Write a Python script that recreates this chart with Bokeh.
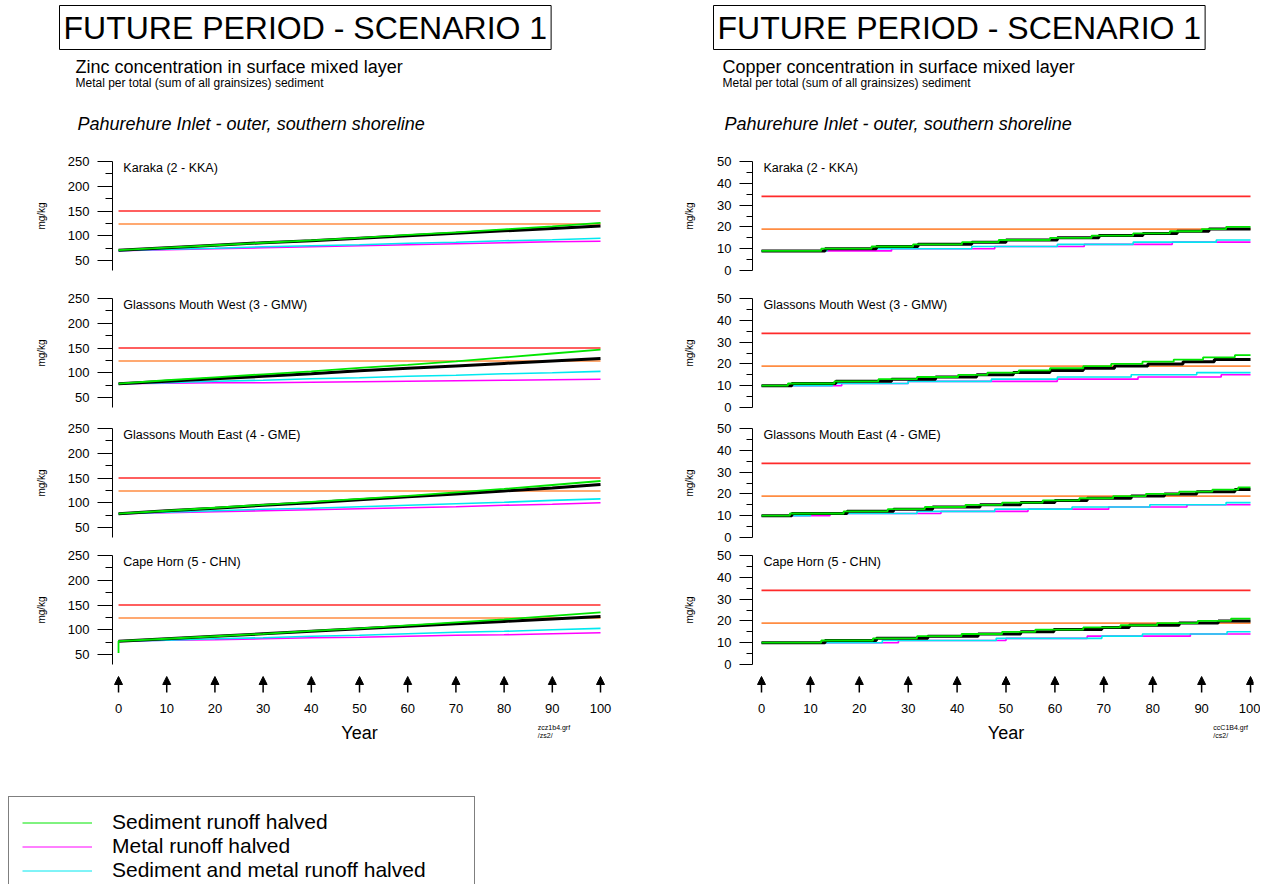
from bokeh.plotting import figure
from bokeh.layouts import column, row
from bokeh.models import (Range1d, FixedTicker, Label, Arrow, NormalHead,
                          ColumnDataSource, Legend, LegendItem)
from bokeh.embed import file_html
from bokeh.resources import INLINE

FONT = "Liberation Sans"

# ---------------- data ----------------
stations = ["Karaka (2 - KKA)", "Glassons Mouth West (3 - GMW)",
            "Glassons Mouth East (4 - GME)", "Cape Horn (5 - CHN)"]
year_ticks = [0, 10, 20, 30, 40, 50, 60, 70, 80, 90, 100]
decades = [0, 10, 20, 30, 40, 50, 60, 70, 80, 90, 100]

zn_ticks = [50, 100, 150, 200, 250]
zn_minor = [75, 125, 175, 225]
cu_ticks = [0, 10, 20, 30, 40, 50]
cu_minor = [5, 15, 25, 35, 45]

zn_thresholds = [124, 150]   # amber, red
cu_thresholds = [19, 34]

# Zinc (mg/kg) at each decade
zn_kka_scen = [71, 76, 81, 86, 90, 95, 100, 105, 110, 115, 120]
zn_kka_sed = [71, 76, 81, 86, 91, 96, 102, 107, 113, 119, 126]
zn_kka_metal = [70, 72, 74, 76, 78, 80, 82, 84, 86, 88, 89]
zn_kka_both = [70, 73, 75, 78, 80, 82, 85, 87, 90, 92, 95]

zn_gmw_scen = [78, 83, 88, 93, 98, 104, 109, 114, 119, 124, 129]
zn_gmw_sed = [78, 85, 91, 97, 103, 110, 116, 123, 131, 139, 147]
zn_gmw_metal = [78, 79, 80, 80, 81, 82, 83, 84, 85, 86, 87]
zn_gmw_both = [78, 80, 83, 85, 88, 90, 93, 95, 98, 100, 103]

zn_gme_scen = [78, 84, 89, 95, 100, 106, 112, 118, 124, 130, 137]
zn_gme_sed = [78, 84, 90, 96, 102, 108, 114, 121, 128, 136, 144]
zn_gme_metal = [78, 80, 82, 84, 86, 88, 90, 92, 95, 97, 100]
zn_gme_both = [78, 81, 84, 87, 89, 92, 95, 98, 101, 105, 108]

zn_chn_scen = [77, 82, 87, 92, 97, 102, 107, 112, 117, 122, 127]
zn_chn_sed_years = [0, 0, 10, 20, 30, 40, 50, 60, 70, 80, 90, 100]
zn_chn_sed = [53, 77, 82, 87, 92, 98, 103, 109, 115, 121, 128, 135]
zn_chn_metal = [77, 79, 80, 82, 84, 85, 87, 89, 90, 92, 94]
zn_chn_both = [77, 79, 82, 84, 87, 89, 92, 95, 97, 100, 103]

# Copper (mg/kg): step change years and levels
cu_kka_scen_yr = [0, 13, 23.5, 32, 43, 50, 60.5, 69, 78, 85, 91.5, 100]
cu_kka_scen = [9, 10, 11, 12, 13, 14, 15, 16, 17, 18, 19, 19]
cu_kka_sed_yr = [0, 12.2, 22.5, 31, 41, 48.5, 59, 67.5, 76, 83.5, 90, 95, 100]
cu_kka_sed = [9, 10, 11, 12, 13, 14, 15, 16, 17, 18, 19, 20, 20]
cu_kka_metal_yr = [0, 26.6, 47.7, 66, 84, 100]
cu_kka_metal = [9, 10, 11, 12, 13, 13]
cu_kka_both_yr = [0, 13.4, 43, 60.5, 76, 93, 100]
cu_kka_both = [9, 10, 11, 12, 13, 14, 14]

cu_gmw_scen_yr = [0, 6.2, 15.2, 26.6, 35.6, 44, 51.5, 59, 65.8, 72.2, 79, 86.2, 92.6, 100]
cu_gmw_scen = [10, 11, 12, 13, 14, 15, 16, 17, 18, 19, 20, 21, 22, 22]
cu_gmw_sed_yr = [0, 5.4, 14.9, 23.9, 31.8, 40.2, 46.2, 52.6, 59, 65.8, 71.5, 77.9, 84.3, 90.3, 96.8, 100]
cu_gmw_sed = [10, 11, 12, 13, 14, 15, 16, 17, 18, 19, 20, 21, 22, 23, 24, 24]
cu_gmw_metal_yr = [0, 16.4, 30, 60.5, 77, 94, 100]
cu_gmw_metal = [10, 11, 12, 13, 14, 15, 15]
cu_gmw_both_yr = [0, 14.5, 30, 47, 60.5, 75.6, 89, 100]
cu_gmw_both = [10, 11, 12, 13, 14, 15, 16, 16]

cu_gme_scen_yr = [0, 6.2, 17.5, 27, 35, 44.7, 53, 60, 66.6, 75.6, 82.4, 89, 96.8, 100]
cu_gme_scen = [10, 11, 12, 13, 14, 15, 16, 17, 18, 19, 20, 21, 22, 22]
cu_gme_sed_yr = [0, 5.8, 16.8, 25.8, 33.4, 41.7, 49.2, 57.5, 65, 71.9, 78.6, 85.4, 92.2, 97.5, 100]
cu_gme_sed = [10, 11, 12, 13, 14, 15, 16, 17, 18, 19, 20, 21, 22, 23, 23]
cu_gme_metal_yr = [0, 14, 36.7, 54.5, 71, 87, 100]
cu_gme_metal = [10, 11, 12, 13, 14, 15, 15]
cu_gme_both_yr = [0, 10, 31.8, 47.7, 63.5, 79.4, 95, 100]
cu_gme_both = [10, 11, 12, 13, 14, 15, 16, 16]

cu_chn_scen_yr = [0, 13, 23.5, 34, 44.3, 53, 59.8, 69.6, 75.2, 85.4, 93.4, 100]
cu_chn_scen = [10, 11, 12, 13, 14, 15, 16, 17, 18, 19, 20, 20]
cu_chn_sed_yr = [0, 12.2, 22.8, 31.8, 40.9, 49.2, 56, 65.8, 73.4, 80.9, 89.2, 96, 100]
cu_chn_sed = [10, 11, 12, 13, 14, 15, 16, 17, 18, 19, 20, 21, 21]
cu_chn_metal_yr = [0, 28, 50, 66.6, 87.7, 100]
cu_chn_metal = [10, 11, 12, 13, 14, 14]
cu_chn_both_yr = [0, 24.7, 48, 69.6, 77.9, 95.2, 100]
cu_chn_both = [10, 11, 12, 13, 14, 15, 15]

legend_labels = ["Sediment runoff halved", "Metal runoff halved",
                 "Sediment and metal runoff halved"]

# ---------------- styling ----------------
GREEN = "#00e600"
MAGENTA = "#ff00ff"
CYAN = "#00e8f0"
BLACK = "#000000"
RED = "#ff2a2a"
ORANGE = "#ff8c42"

zn_series = [
    dict(scen=(decades, zn_kka_scen), sed=(decades, zn_kka_sed), metal=(decades, zn_kka_metal), both=(decades, zn_kka_both)),
    dict(scen=(decades, zn_gmw_scen), sed=(decades, zn_gmw_sed), metal=(decades, zn_gmw_metal), both=(decades, zn_gmw_both)),
    dict(scen=(decades, zn_gme_scen), sed=(decades, zn_gme_sed), metal=(decades, zn_gme_metal), both=(decades, zn_gme_both)),
    dict(scen=(decades, zn_chn_scen), sed=(zn_chn_sed_years, zn_chn_sed), metal=(decades, zn_chn_metal), both=(decades, zn_chn_both)),
]
cu_series = [
    dict(scen=(cu_kka_scen_yr, cu_kka_scen), sed=(cu_kka_sed_yr, cu_kka_sed), metal=(cu_kka_metal_yr, cu_kka_metal), both=(cu_kka_both_yr, cu_kka_both)),
    dict(scen=(cu_gmw_scen_yr, cu_gmw_scen), sed=(cu_gmw_sed_yr, cu_gmw_sed), metal=(cu_gmw_metal_yr, cu_gmw_metal), both=(cu_gmw_both_yr, cu_gmw_both)),
    dict(scen=(cu_gme_scen_yr, cu_gme_scen), sed=(cu_gme_sed_yr, cu_gme_sed), metal=(cu_gme_metal_yr, cu_gme_metal), both=(cu_gme_both_yr, cu_gme_both)),
    dict(scen=(cu_chn_scen_yr, cu_chn_scen), sed=(cu_chn_sed_yr, cu_chn_sed), metal=(cu_chn_metal_yr, cu_chn_metal), both=(cu_chn_both_yr, cu_chn_both)),
]

PANEL_H = [137, 130, 128, 127]
PANEL_BT = [11, 11, 11, 10]
PANEL_BB = [17, 10, 8, 8]
HEADER_H = 150
STRIP_A_H = 44     # arrows + tick labels (page 672 -> 716)
STRIP_A_F = 23     # frame height of that strip
STRIP_B_H = 44     # "Year" + file name (page 716 -> 760)
LEGEND_H = 124

SIDES = {
    "zn": dict(W=638, mbl=112, mbr=31, xr=(-1.25, 101.45), yr=(30, 250),
               ticks=zn_ticks, minor=zn_minor, tick_out=15, minor_out=7,
               lab_standoff=18, thr=zn_thresholds, series=zn_series,
               st_x=1.0, st_y=236, step=False,
               fname=("zcz1b4.grf", "/zs2/"), fx=87.0,
               box_x=59, sub_x=75, it_x=77,
               subtitle="Zinc concentration in surface mixed layer"),
    "cu": dict(W=622, mbl=114, mbr=7, xr=(-1.84, 100.61), yr=(0, 50),
               ticks=cu_ticks, minor=cu_minor, tick_out=13, minor_out=6,
               lab_standoff=19, thr=cu_thresholds, series=cu_series,
               st_x=0.4, st_y=46.8, step=True,
               fname=("ccC1B4.grf", "/cs2/"), fx=92.4,
               box_x=75, sub_x=84, it_x=86,
               subtitle="Copper concentration in surface mixed layer"),
}


def base_fig(**kw):
    p = figure(output_backend="svg", toolbar_location=None, frame_align=False, **kw)
    p.outline_line_color = None
    p.xgrid.visible = False
    p.ygrid.visible = False
    return p


def make_header(cfg):
    W = cfg["W"]
    h = base_fig(width=W, height=HEADER_H, x_range=Range1d(0, W),
                 y_range=Range1d(HEADER_H, 0), x_axis_location=None,
                 y_axis_location=None, min_border=0)
    h.add_layout(Label(x=cfg["box_x"], y=5, text="FUTURE PERIOD - SCENARIO 1",
                       text_font=FONT, text_font_size="32px", text_align="left",
                       text_baseline="top", padding=4, border_line_color="black",
                       border_line_width=1, text_color="black"))
    h.add_layout(Label(x=cfg["sub_x"], y=66, text=cfg["subtitle"], text_font=FONT,
                       text_font_size="18px", text_baseline="middle", text_color="black"))
    h.add_layout(Label(x=cfg["sub_x"], y=82,
                       text="Metal per total (sum of all grainsizes) sediment",
                       text_font=FONT, text_font_size="12px", text_baseline="middle",
                       text_color="black"))
    h.add_layout(Label(x=cfg["it_x"], y=123,
                       text="Pahurehure Inlet - outer, southern shoreline",
                       text_font=FONT, text_font_size="18px", text_font_style="italic",
                       text_baseline="middle", text_color="black"))
    return h


def make_panel(cfg, k):
    p = base_fig(width=cfg["W"], height=PANEL_H[k], x_range=Range1d(*cfg["xr"]),
                 y_range=Range1d(*cfg["yr"]), x_axis_location=None,
                 min_border_left=cfg["mbl"], min_border_right=cfg["mbr"],
                 min_border_top=PANEL_BT[k], min_border_bottom=PANEL_BB[k])
    ax = p.yaxis[0]
    ax.ticker = FixedTicker(ticks=cfg["ticks"], minor_ticks=cfg["minor"])
    ax.axis_line_color = "black"
    ax.axis_line_width = 1
    ax.major_tick_out = cfg["tick_out"]
    ax.major_tick_in = 0
    ax.minor_tick_out = cfg["minor_out"]
    ax.minor_tick_in = 0
    ax.major_tick_line_color = "black"
    ax.minor_tick_line_color = "black"
    ax.major_label_standoff = 8
    ax.major_label_text_font = FONT
    ax.major_label_text_font_size = "13px"
    ax.major_label_text_color = "black"
    ax.axis_label = "mg/kg"
    ax.axis_label_text_font = FONT
    ax.axis_label_text_font_size = "10px"
    ax.axis_label_text_font_style = "normal"
    ax.axis_label_text_color = "black"
    ax.axis_label_standoff = cfg["lab_standoff"]

    x0, x1 = year_ticks[0], year_ticks[-1]
    amber, red = cfg["thr"]
    p.line([x0, x1], [red, red], line_color=RED, line_width=1.6)
    p.line([x0, x1], [amber, amber], line_color=ORANGE, line_width=1.6)

    s = cfg["series"][k]
    order = [("metal", MAGENTA, 1.6), ("both", CYAN, 1.6), ("scen", BLACK, 3.0), ("sed", GREEN, 1.8)]
    for key, col, lw in order:
        xs, ys = s[key]
        if cfg["step"]:
            p.step(xs, ys, mode="after", line_color=col, line_width=lw)
        else:
            p.line(xs, ys, line_color=col, line_width=lw)

    p.add_layout(Label(x=cfg["st_x"], y=cfg["st_y"], text=stations[k], text_font=FONT,
                       text_font_size="12.5px", text_baseline="middle", text_color="black"))
    return p


def make_strip_a(cfg):
    s = base_fig(width=cfg["W"], height=STRIP_A_H, x_range=Range1d(*cfg["xr"]),
                 y_range=Range1d(STRIP_A_F, 0), y_axis_location=None,
                 min_border_left=cfg["mbl"], min_border_right=cfg["mbr"],
                 min_border_top=0, min_border_bottom=STRIP_A_H - STRIP_A_F)
    xa = s.xaxis[0]
    xa.ticker = FixedTicker(ticks=year_ticks, minor_ticks=[])
    xa.axis_line_color = None
    xa.major_tick_line_color = None
    xa.minor_tick_line_color = None
    xa.major_tick_out = 0
    xa.major_tick_in = 0
    xa.major_label_standoff = 8
    xa.major_label_text_font = FONT
    xa.major_label_text_font_size = "13px"
    xa.major_label_text_color = "black"
    src = ColumnDataSource(dict(x=year_ticks))
    s.add_layout(Arrow(end=NormalHead(size=8, fill_color="black", line_color="black",
                                      line_width=1),
                       x_start="x", y_start=20, x_end="x", y_end=4, source=src,
                       line_color="black", line_width=1.5))
    return s


def make_strip_b(cfg):
    s = base_fig(width=cfg["W"], height=STRIP_B_H, x_range=Range1d(*cfg["xr"]),
                 y_range=Range1d(STRIP_B_H, 0), x_axis_location=None,
                 y_axis_location=None,
                 min_border_left=cfg["mbl"], min_border_right=cfg["mbr"],
                 min_border_top=0, min_border_bottom=0)
    mid = (year_ticks[0] + year_ticks[-1]) / 2
    s.add_layout(Label(x=mid, y=16, text="Year", text_font=FONT, text_font_size="18px",
                       text_align="center", text_baseline="middle", text_color="black"))
    f1, f2 = cfg["fname"]
    s.add_layout(Label(x=cfg["fx"], y=11, text=f1, text_font=FONT, text_font_size="7px",
                       text_baseline="middle", text_color="black"))
    s.add_layout(Label(x=cfg["fx"], y=19, text=f2, text_font=FONT, text_font_size="7px",
                       text_baseline="middle", text_color="black"))
    return s


cols = []
for side in ("zn", "cu"):
    cfg = SIDES[side]
    figs = ([make_header(cfg)] + [make_panel(cfg, k) for k in range(4)]
            + [make_strip_a(cfg), make_strip_b(cfg)])
    cols.append(column(*figs, spacing=0))

# legend (its lower part runs past the bottom of the page, as in the original).
# The legend figure's own ranges keep its sample lines out of view; only the
# legend swatches are drawn.
lg = base_fig(width=638, height=LEGEND_H, x_range=Range1d(0, 1), y_range=Range1d(0, 1),
              x_axis_location=None, y_axis_location=None, min_border=0)
r_sed = lg.line(decades, zn_kka_sed, line_color=GREEN, line_width=1)
r_met = lg.line(decades, zn_kka_metal, line_color=MAGENTA, line_width=1)
r_both = lg.line(decades, zn_kka_both, line_color=CYAN, line_width=1)
leg = Legend(items=[LegendItem(label=legend_labels[0], renderers=[r_sed]),
                    LegendItem(label=legend_labels[1], renderers=[r_met]),
                    LegendItem(label=legend_labels[2], renderers=[r_both])],
             location=(8, -12), orientation="vertical", padding=13, spacing=0,
             glyph_width=70, glyph_height=23, label_height=23, label_standoff=20,
             label_width=349,
             label_text_font=FONT, label_text_font_size="21px",
             label_text_color="black", border_line_color="black",
             border_line_width=1, background_fill_alpha=1, margin=0)
lg.add_layout(leg)

layout = column(row(*cols, spacing=0), lg, spacing=0)
open("out.html", "w").write(file_html(layout, INLINE))
